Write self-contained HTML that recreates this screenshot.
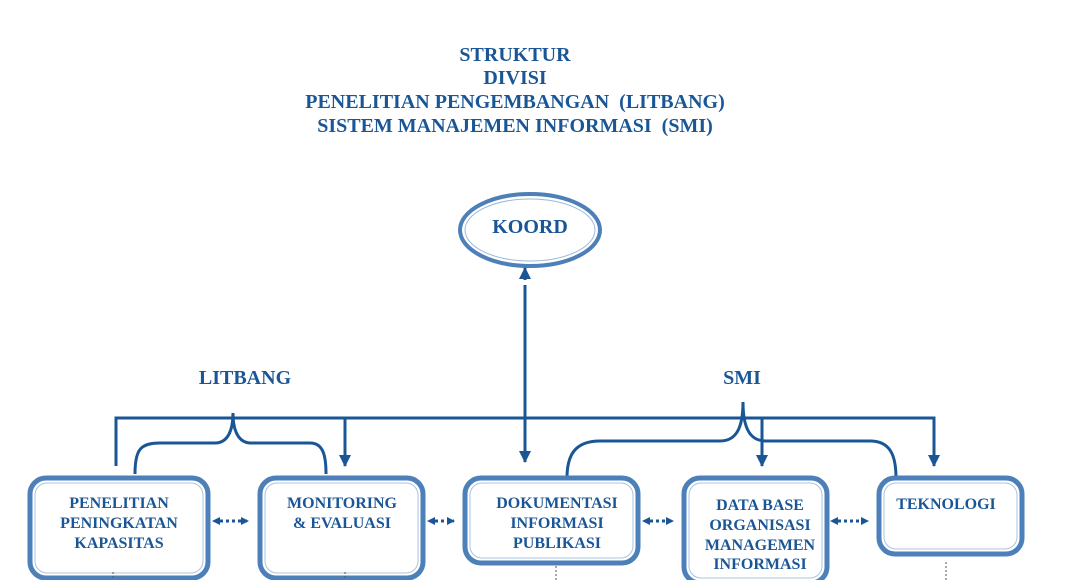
<!DOCTYPE html>
<html><head><meta charset="utf-8"><style>
html,body{margin:0;padding:0;background:#fff;}
svg{display:block;}
text{font-family:"Liberation Serif",serif;font-weight:bold;fill:#1a5696;text-anchor:middle;}
</style></head><body>
<svg width="1068" height="580" viewBox="0 0 1068 580" xmlns="http://www.w3.org/2000/svg">
<defs>
<marker id="ah" markerWidth="8" markerHeight="8" refX="7" refY="4" orient="auto" markerUnits="userSpaceOnUse">
<path d="M0,0 L8,4 L0,8 z" fill="#1a5696"/></marker>
<marker id="ah2" markerWidth="12" markerHeight="12" refX="11" refY="6" orient="auto" markerUnits="userSpaceOnUse">
<path d="M0,0 L12,6 L0,12 z" fill="#1a5696"/></marker>
</defs>
<g font-size="20">
<text x="515" y="61">STRUKTUR</text>
<text x="515" y="84">DIVISI</text>
<text x="515" y="108" xml:space="preserve">PENELITIAN PENGEMBANGAN  (LITBANG)</text>
<text x="515" y="132" xml:space="preserve">SISTEM MANAJEMEN INFORMASI  (SMI)</text>
<text x="245" y="384">LITBANG</text>
<text x="742" y="384">SMI</text>
</g>
<ellipse cx="530" cy="230" rx="70" ry="36" fill="#fff" stroke="#4d7fb8" stroke-width="4"/>
<ellipse cx="530" cy="230" rx="65" ry="31" fill="none" stroke="#9cb9da" stroke-width="1"/>
<text x="530" y="233" font-size="20">KOORD</text>
<g stroke="#1a5696" stroke-width="3" fill="none">
<line x1="525" y1="285" x2="525" y2="462" marker-end="url(#ah2)"/>
<line x1="525" y1="280" x2="525" y2="268" marker-end="url(#ah2)"/>
<polyline points="116,466 116,418 934,418 934,466" marker-end="url(#ah2)"/>
<line x1="345" y1="418" x2="345" y2="466" marker-end="url(#ah2)"/>
<line x1="762" y1="418" x2="762" y2="466" marker-end="url(#ah2)"/>
<path d="M135,474 C135,450 140,443 160,443 L215,443 C228,443 233,430 233,413 C233,430 238,443 251,443 L310,443 C323,443 326,455 326,474"/>
<path d="M567,478 C567,455 575,441 600,441 L720,441 C735,441 743,430 743,402 C743,430 751,441 766,441 L870,441 C890,441 896,455 896,478"/>
</g>
<g fill="#fff" stroke="#4d7fb8" stroke-width="5">
<rect x="30" y="478" width="178" height="100" rx="16"/>
<rect x="260" y="478" width="163" height="100" rx="16"/>
<rect x="465" y="478" width="173" height="85" rx="16"/>
<rect x="684" y="478" width="143" height="105" rx="16"/>
<rect x="879" y="478" width="143" height="76" rx="16"/>
</g>
<g fill="none" stroke="#a9c3e0" stroke-width="1">
<rect x="35" y="483" width="168" height="90" rx="12"/>
<rect x="265" y="483" width="153" height="90" rx="12"/>
<rect x="470" y="483" width="163" height="75" rx="12"/>
<rect x="689" y="483" width="133" height="95" rx="12"/>
<rect x="884" y="483" width="133" height="66" rx="12"/>
</g>
<g font-size="16">
<text x="119" y="508">PENELITIAN</text>
<text x="119" y="528">PENINGKATAN</text>
<text x="119" y="548">KAPASITAS</text>
<text x="342" y="508">MONITORING</text>
<text x="342" y="528">&amp; EVALUASI</text>
<text x="557" y="508">DOKUMENTASI</text>
<text x="557" y="528">INFORMASI</text>
<text x="557" y="548">PUBLIKASI</text>
<text x="760" y="510">DATA BASE</text>
<text x="760" y="530">ORGANISASI</text>
<text x="760" y="550">MANAGEMEN</text>
<text x="760" y="569">INFORMASI</text>
<text x="946" y="509">TEKNOLOGI</text>
</g>
<g stroke="#1a5696" stroke-width="3" stroke-dasharray="3,3">
<line x1="220" y1="521" x2="248" y2="521" marker-end="url(#ah)"/>
<line x1="435" y1="521" x2="454" y2="521" marker-end="url(#ah)"/>
<line x1="650" y1="521" x2="673" y2="521" marker-end="url(#ah)"/>
<line x1="838" y1="521" x2="868" y2="521" marker-end="url(#ah)"/>
</g>
<g fill="#1a5696">
<path d="M212,521 L220,517 L220,525 z"/>
<path d="M427,521 L435,517 L435,525 z"/>
<path d="M642,521 L650,517 L650,525 z"/>
<path d="M830,521 L838,517 L838,525 z"/>
</g>
<g stroke="#555" stroke-width="1" stroke-dasharray="2,2">
<line x1="113" y1="572" x2="113" y2="580"/>
<line x1="345" y1="572" x2="345" y2="580"/>
<line x1="556" y1="566" x2="556" y2="580"/>
<line x1="946" y1="562" x2="946" y2="580"/>
</g>
</svg>
</body></html>
